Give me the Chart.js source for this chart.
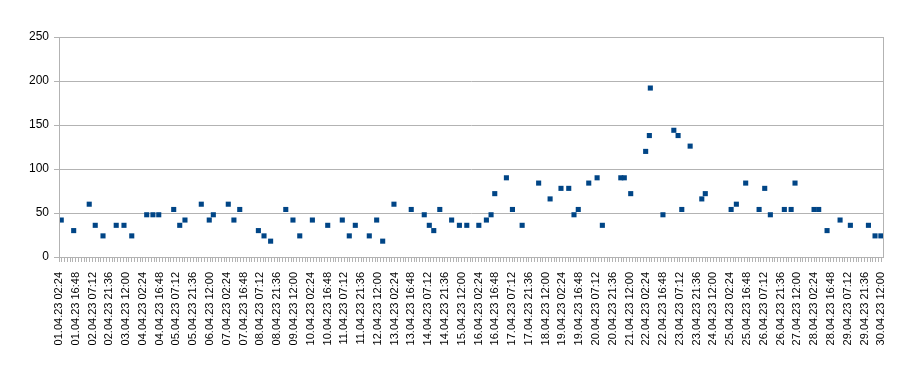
<!DOCTYPE html>
<html>
<head>
<meta charset="utf-8">
<script src="https://cdn.jsdelivr.net/npm/chart.js@4"></script>
<style>
  html, body { margin: 0; padding: 0; background: #fff; }
  #wrap { width: 905px; height: 365px; }
</style>
</head>
<body>
<div id="wrap"><canvas id="chart"></canvas></div>
<script>
// April 2023 readings, "dd.04 HH:mm"
const times = [
    "01.04 04:20", "01.04 15:00", "02.04 04:20", "02.04 09:30", "02.04 16:10", "03.04 03:30", "03.04 10:10", "03.04 16:50", "04.04 05:40", "04.04 11:00",
    "04.04 16:00", "05.04 04:50", "05.04 10:00", "05.04 14:30", "06.04 04:30", "06.04 11:20", "06.04 14:50", "07.04 03:40", "07.04 08:30", "07.04 13:30",
    "08.04 05:30", "08.04 10:20", "08.04 16:00", "09.04 05:00", "09.04 11:10", "09.04 17:00", "10.04 03:50", "10.04 17:00", "11.04 05:30", "11.04 11:30",
    "11.04 16:40", "12.04 04:40", "12.04 11:00", "12.04 16:10", "13.04 01:50", "13.04 16:40", "14.04 03:50", "14.04 08:10", "14.04 12:00", "14.04 17:10",
    "15.04 03:20", "15.04 10:00", "15.04 16:20", "16.04 02:40", "16.04 09:10", "16.04 13:10", "16.04 16:20", "17.04 02:20", "17.04 07:30", "17.04 15:50",
    "18.04 06:00", "18.04 15:50", "19.04 01:10", "19.04 07:50", "19.04 12:20", "19.04 16:00", "20.04 01:00", "20.04 08:10", "20.04 12:40", "21.04 04:30",
    "21.04 07:30", "21.04 13:00", "22.04 01:50", "22.04 05:00", "22.04 05:50", "22.04 16:40", "23.04 02:00", "23.04 05:40", "23.04 08:50", "23.04 16:00",
    "24.04 02:00", "24.04 05:00", "25.04 03:10", "25.04 07:40", "25.04 15:40", "26.04 03:10", "26.04 08:00", "26.04 12:50", "27.04 00:50", "27.04 06:40",
    "27.04 10:00", "28.04 02:20", "28.04 06:20", "28.04 13:30", "29.04 00:40", "29.04 09:30", "30.04 01:00", "30.04 06:40", "30.04 11:40"
];
const values = [
    42, 30, 60, 36, 24, 36, 36, 24, 48, 48,
    48, 54, 36, 42, 60, 42, 48, 60, 42, 54,
    30, 24, 18, 54, 42, 24, 42, 36, 42, 24,
    36, 24, 42, 18, 60, 54, 48, 36, 30, 54,
    42, 36, 36, 36, 42, 48, 72, 90, 54, 36,
    84, 66, 78, 78, 48, 54, 84, 90, 36, 90,
    90, 72, 120, 138, 192, 48, 144, 138, 54, 126,
    66, 72, 54, 60, 84, 54, 78, 48, 54, 54,
    84, 54, 54, 30, 42, 36, 36, 24, 24
];

// x axis in minutes since 01.04.23 00:00
const xMin = 144;        // 01.04.23 02:24
const xMax = 42570;
const minorStep = 144;   // 2.4 h
const labelStep = 864;   // 14.4 h
const yMax = 250;
const yStep = 50;

function toMinutes(s) {
    const day = parseInt(s.slice(0, 2), 10);
    const hh = parseInt(s.slice(6, 8), 10);
    const mm = parseInt(s.slice(9, 11), 10);
    return (day - 1) * 1440 + hh * 60 + mm;
}

function pad(n) {
    return String(n).padStart(2, "0");
}

function formatTick(v) {
    const day = Math.floor(v / 1440) + 1;
    const rem = v % 1440;
    return pad(day) + ".04.23 " + pad(Math.floor(rem / 60)) + ":" + pad(rem % 60);
}

const points = times.map((t, i) => ({ x: toMinutes(t), y: values[i] }));

const gridColor = "#b3b3b3";

const frame = {
    id: "frame",
    afterDraw(chart) {
        const { ctx, chartArea } = chart;
        ctx.save();
        ctx.strokeStyle = gridColor;
        ctx.lineWidth = 1;
        ctx.strokeRect(Math.round(chartArea.left) + 0.5, Math.round(chartArea.top) + 0.5,
            Math.round(chartArea.right - chartArea.left), Math.round(chartArea.bottom - chartArea.top));
        ctx.restore();
    },
};

new Chart(document.querySelector("#chart"), {
    type: "scatter",
    data: {
        datasets: [
            {
                label: "Wert",
                data: points,
                backgroundColor: "#004586",
                borderColor: "#004586",
                borderWidth: 0,
                pointStyle: "rect",
                pointRadius: 3.6,
            },
        ],
    },
    options: {
        responsive: true,
        maintainAspectRatio: false,
        animation: false,
        layout: {
            padding: { top: 37, right: 22, bottom: 0, left: 0 },
        },
        plugins: {
            legend: { display: false },
            tooltip: { enabled: false },
        },
        scales: {
            x: {
                type: "linear",
                min: xMin,
                max: xMax,
                afterFit(scale) {
                    scale.height = 108;
                },
                grid: {
                    drawOnChartArea: false,
                    drawTicks: true,
                    tickLength: 5,
                    color: gridColor,
                },
                border: { color: gridColor },
                ticks: {
                    stepSize: minorStep,
                    includeBounds: false,
                    autoSkip: false,
                    minRotation: 90,
                    maxRotation: 90,
                    padding: 10,
                    color: "#000",
                    font: { family: "'Liberation Sans', Arial, sans-serif", size: 11 },
                    callback: (v) => ((v - xMin) % labelStep === 0 ? formatTick(v) : ""),
                },
            },
            y: {
                min: 0,
                max: yMax,
                afterFit(scale) {
                    scale.width = 59;
                },
                grid: {
                    color: gridColor,
                    tickLength: 5,
                },
                border: { color: gridColor },
                ticks: {
                    stepSize: yStep,
                    padding: 5,
                    color: "#000",
                    font: { family: "'Liberation Sans', Arial, sans-serif", size: 12 },
                },
            },
        },
    },
    plugins: [frame],
});
</script>
</body>
</html>
